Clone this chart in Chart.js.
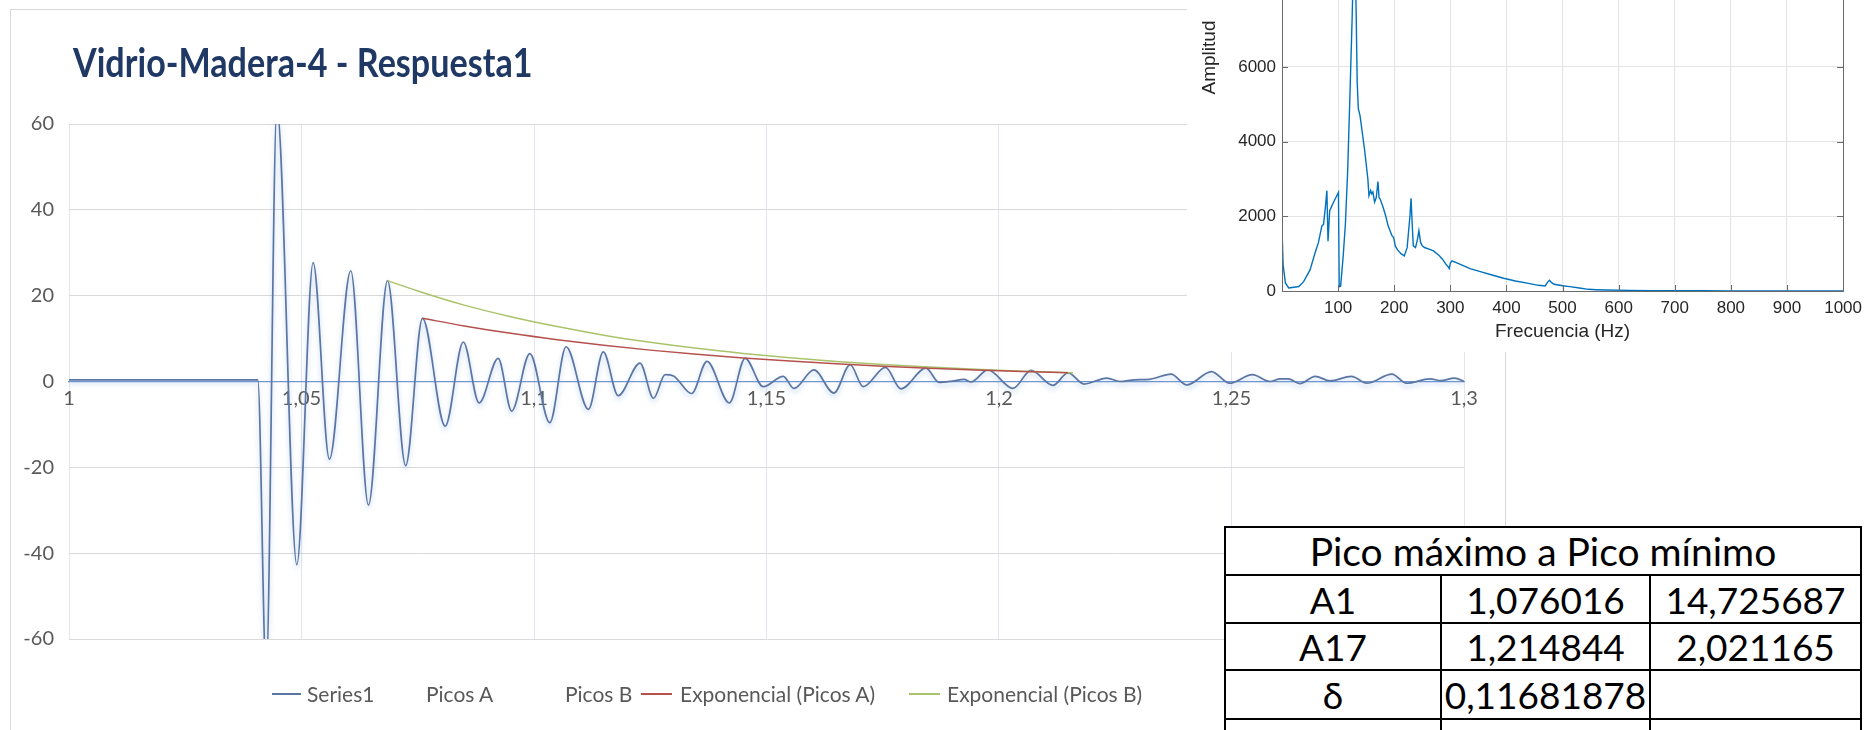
<!DOCTYPE html>
<html lang="es">
<head>
<meta charset="utf-8">
<title>Vidrio-Madera-4 - Respuesta1</title>
<script src="https://cdn.jsdelivr.net/npm/chart.js@4.4.1/dist/chart.umd.min.js"></script>
<style>
  html, body { margin: 0; padding: 0; background: #fff; }
  body { width: 1869px; height: 730px; position: relative; overflow: hidden; font-family: Lato, "Open Sans", sans-serif; }
  #frame { position: absolute; left: 10px; top: 9px; width: 1496px; height: 760px; border: 1px solid #d9d9d9; box-sizing: border-box; }
  #mainWrap { position: absolute; left: 0; top: 0; width: 1510px; height: 730px; }
  #title { position: absolute; left: 73px; top: 42px; font: bold 35px/35px Lato, sans-serif; color: #1f3864;
           white-space: nowrap; transform: scale(0.975, 1.12); transform-origin: left top; }
  #legend { position: absolute; left: 0; top: 682px; width: 1200px; height: 24px; font: 21px/24px Lato, sans-serif; color: #595959; }
  .lg-line { position: absolute; top: 11px; height: 0; border-top: 2px solid transparent; }
  .lg-text { position: absolute; top: 0; white-space: nowrap; }
  #inset { position: absolute; left: 1187px; top: 0; width: 682px; height: 352px; background: #fff; overflow: hidden; }
  #insetWrap { position: absolute; left: 0; top: -200px; width: 682px; height: 552px; }
  #tabla { position: absolute; left: 1224px; top: 526px; border-collapse: collapse; table-layout: fixed; width: 636px;
           background: #fff; font: 37px Lato, sans-serif; color: #000; }
  #tabla td { border: 2px solid #000; text-align: center; padding: 0; line-height: 1; white-space: nowrap; }
  #tabla tr:first-child td { font-size: 39px; }
</style>
</head>
<body>
<div id="frame"></div>
<div id="mainWrap"><canvas id="mainChart" width="1510" height="730"></canvas></div>
<div id="title"></div>
<div id="legend"></div>
<div id="inset"><div id="insetWrap"><canvas id="insetChart" width="682" height="552"></canvas></div></div>
<table id="tabla"></table>

<script>
// ---- Respuesta temporal (Series1) ----
const chartTitle = 'Vidrio-Madera-4 - Respuesta1';

const series1Time = [
  1.0000, 1.0406, 1.0424, 1.0447, 1.0490, 1.0525, 1.0560, 1.0606, 1.0644, 1.0685,
  1.0724, 1.076016, 1.0809, 1.0848, 1.0882, 1.0923, 1.0952, 1.0991, 1.1034, 1.1069,
  1.1117, 1.1149, 1.1181, 1.1228, 1.1257, 1.1282, 1.1300, 1.1339, 1.1372, 1.1420,
  1.1454, 1.1493, 1.1536, 1.1559, 1.1602, 1.1645, 1.1680, 1.1708, 1.1756, 1.1789,
  1.1843, 1.1871, 1.1900, 1.1925, 1.1940, 1.1976, 1.2030, 1.2069, 1.2116, 1.214844,
  1.2183, 1.2232, 1.2260, 1.2292, 1.2323, 1.2370, 1.2404, 1.2457, 1.2496, 1.2545,
  1.2582, 1.2605, 1.2622, 1.2647, 1.2680, 1.2712, 1.2758, 1.2791, 1.2845, 1.2876,
  1.2927, 1.2950, 1.2980, 1.3000
];
const series1Value = [
  0.4, 0.4, -68, 64, -42.7, 27.7, -18.1, 25.8, -28.8, 23.5,
  -19.6, 14.725687, -10.4, 9.2, -5.0, 5.4, -6.9, 6.5, -9.6, 8.1,
  -6.5, 6.9, -3.3, 4.3, -3.9, 1.6, 1.3, -2.8, 4.7, -5.0,
  5.4, -1.2, 1.2, -1.6, 2.7, -2.7, 3.9, -1.2, 3.3, -1.7,
  3.1, -0.2, 0.1, 0.5, -0.1, 2.7, -1.6, 2.6, -0.9, 2.021165,
  -0.6, 0.8, 0.0, 0.4, 0.5, 1.7, -0.8, 2.3, -0.4, 1.6,
  0.0, 0.6, 0.6, -0.5, 1.2, 0.15, 1.2, -0.4, 1.7, -0.4,
  0.6, 0.2, 0.8, 0.0
];

// Picos usados para los ajustes exponenciales
const picosATime  = [1.076016, 1.214844];
const picosAValue = [14.725687, 2.021165];
const picosBTime  = [1.0685, 1.2159];
const picosBValue = [23.5, 2.02];

// Líneas de tendencia exponencial
const trendATime  = [1.076016, 1.085, 1.095, 1.105, 1.115, 1.125, 1.135, 1.145, 1.155, 1.165, 1.175, 1.185, 1.195, 1.205, 1.214844];
const trendAValue = [14.73, 12.95, 11.22, 9.73, 8.43, 7.31, 6.33, 5.49, 4.76, 4.12, 3.57, 3.10, 2.68, 2.33, 2.02];
const trendBTime  = [1.0685, 1.075, 1.085, 1.095, 1.105, 1.115, 1.125, 1.135, 1.145, 1.155, 1.165, 1.175, 1.185, 1.195, 1.205, 1.2159];
const trendBValue = [23.5, 21.1, 17.8, 15.1, 12.8, 10.8, 9.14, 7.73, 6.54, 5.53, 4.68, 3.96, 3.35, 2.83, 2.40, 2.02];

// Ejes del gráfico principal
const xTickValues = [1, 1.05, 1.1, 1.15, 1.2, 1.25, 1.3];
const xTickLabels = ['1', '1,05', '1,1', '1,15', '1,2', '1,25', '1,3'];
const yTickValues = [-60, -40, -20, 0, 20, 40, 60];
const yTickLabels = ['-60', '-40', '-20', '0', '20', '40', '60'];

// ---- Espectro (FFT) ----
const freqHz = [
  0, 2, 6, 12, 21, 30, 38.5, 50, 59, 65, 71, 74, 77, 80, 82, 85, 91.6, 97.6, 100.6, 102,
  104.5, 109, 113, 117, 121, 125, 128, 130, 132, 134, 136, 139, 143, 147, 149, 153, 155, 158, 160, 162,
  165, 168, 171, 173, 175, 180, 185, 189, 196, 199, 202, 206, 212, 218, 223, 228, 230, 232, 234, 238,
  241, 244, 247, 250, 254, 262, 270, 280, 286, 292, 296, 298, 300, 303, 320, 335, 355, 376, 395, 416,
  437, 457, 469, 474, 477, 480, 485, 500, 513, 530, 546, 560, 578, 620, 659, 700, 750, 800, 850, 900,
  950, 1000
];
const amplitud = [
  1650, 700, 216, 80, 100, 120, 250, 565, 1025, 1300, 1740, 1785, 2190, 2685, 1335, 2150, 2370, 2550, 2640, 115,
  130, 925, 1800, 3200, 5200, 7300, 9200, 8900, 7600, 5600, 4880, 4700, 4250, 3800, 3540, 3000, 2550, 2690, 2600, 2650,
  2380, 2500, 2930, 2500, 2460, 2250, 2000, 1750, 1480, 1430, 1200, 1100, 1000, 940, 1160, 2000, 2480, 1800, 1210, 1164,
  1350, 1612, 1300, 1209, 1164, 1120, 1075, 950, 851, 720, 650, 600, 750, 806, 700, 600, 510, 421, 340, 269,
  210, 152, 134, 250, 287, 230, 179, 140, 116, 80, 45, 35, 27, 18, 10, 8, 5, 3, 2, 2,
  1, 1
];
const insetXTicks  = [0, 100, 200, 300, 400, 500, 600, 700, 800, 900, 1000];
const insetXLabels = ['', '100', '200', '300', '400', '500', '600', '700', '800', '900', '1000'];
const insetYTicks  = [0, 2000, 4000, 6000, 8000, 10000, 12000];
const insetYLabels = ['0', '2000', '4000', '6000', '8000', '10000', '12000'];

// ---- Tabla de picos ----
const tablaTitulo = 'Pico máximo a Pico mínimo';
const tablaFilas = [
  ['A1', '1,076016', '14,725687'],
  ['A17', '1,214844', '2,021165'],
  ['δ', '0,11681878', ''],
  ['', '', '']
];

// ---------------------------------------------------------------
const pts = (xs, ys) => xs.map((x, i) => ({ x: x, y: ys[i] }));
const fixedTicks = (values) => function (scale) { scale.ticks = values.map(v => ({ value: v })); };
const labelFor = (values, labels) => function (value) {
  const i = values.findIndex(v => Math.abs(v - value) < 1e-9);
  return i < 0 ? '' : labels[i];
};

document.getElementById('title').textContent = chartTitle;

// Soft shadow under the signal line
const lineShadow = {
  id: 'lineShadow',
  beforeDatasetDraw(chart, args) {
    if (args.index !== 0) return;
    const c = chart.ctx;
    c.save();
    c.shadowColor = 'rgba(100,150,215,0.45)';
    c.shadowBlur = 5;
    c.shadowOffsetY = 3;
  },
  afterDatasetDraw(chart, args) {
    if (args.index !== 0) return;
    chart.ctx.restore();
  }
};

const mainDatasets = [
  { label: 'Series1', data: pts(series1Time, series1Value), borderColor: '#5b76a4', borderWidth: 1.7,
    pointRadius: 0, cubicInterpolationMode: 'monotone', fill: false, order: 1 },
  { label: 'Picos A', data: pts(picosATime, picosAValue), showLine: false, pointRadius: 0,
    borderColor: 'transparent', backgroundColor: 'transparent', order: 0 },
  { label: 'Picos B', data: pts(picosBTime, picosBValue), showLine: false, pointRadius: 0,
    borderColor: 'transparent', backgroundColor: 'transparent', order: 0 },
  { label: 'Exponencial (Picos A)', data: pts(trendATime, trendAValue), borderColor: '#b5504c', borderWidth: 1.5,
    pointRadius: 0, cubicInterpolationMode: 'monotone', fill: false, order: 0 },
  { label: 'Exponencial (Picos B)', data: pts(trendBTime, trendBValue), borderColor: '#a9c36a', borderWidth: 1.5,
    pointRadius: 0, cubicInterpolationMode: 'monotone', fill: false, order: 0 }
];

const mainChart = new Chart(document.getElementById('mainChart'), {
  type: 'line',
  data: { datasets: mainDatasets },
  options: {
    responsive: false,
    animation: false,
    events: [],
    layout: { padding: { left: 0, top: 124, right: 46, bottom: 91 } },
    plugins: { legend: { display: false }, tooltip: { enabled: false }, title: { display: false } },
    scales: {
      x: {
        type: 'linear', min: 1, max: 1.3,
        position: { y: 0 },
        afterBuildTicks: fixedTicks(xTickValues),
        afterFit(scale) { scale.height = 0; },
        ticks: { autoSkip: false, maxRotation: 0, padding: 5, color: '#595959',
                 font: { family: 'Lato', size: 20 }, callback: labelFor(xTickValues, xTickLabels) },
        grid: { color: '#e1e6ee', lineWidth: 1, drawTicks: false },
        border: { display: true, color: '#7396d0', width: 1.2 }
      },
      y: {
        min: -60, max: 60,
        afterBuildTicks: fixedTicks(yTickValues),
        afterFit(scale) { scale.width = 69; },
        ticks: { padding: 15, color: '#595959', font: { family: 'Lato', size: 20 },
                 callback: labelFor(yTickValues, yTickLabels) },
        grid: { color: '#d9d9d9', lineWidth: 1, drawTicks: false },
        border: { display: false }
      }
    }
  },
  plugins: [lineShadow]
});

// Legend built from the chart datasets (line sample + label)
const legendSlots = [
  { line: [272, 301], text: 307 },
  { line: null, text: 426 },
  { line: null, text: 565 },
  { line: [641, 672], text: 680 },
  { line: [909, 940], text: 947 }
];
const legendEl = document.getElementById('legend');
mainChart.data.datasets.forEach((ds, i) => {
  const slot = legendSlots[i];
  if (slot.line && ds.showLine !== false) {
    const line = document.createElement('span');
    line.className = 'lg-line';
    line.style.left = slot.line[0] + 'px';
    line.style.width = (slot.line[1] - slot.line[0]) + 'px';
    line.style.borderTopColor = ds.borderColor;
    legendEl.appendChild(line);
  }
  const txt = document.createElement('span');
  txt.className = 'lg-text';
  txt.style.left = slot.text + 'px';
  txt.textContent = ds.label;
  legendEl.appendChild(txt);
});

// Axes box with inward tick marks for the spectrum plot
const axesBox = {
  id: 'axesBox',
  afterDatasetsDraw(chart) {
    const { ctx, chartArea: a, scales } = chart;
    ctx.save();
    ctx.strokeStyle = '#6a6a6a';
    ctx.lineWidth = 1;
    ctx.strokeRect(Math.round(a.left) + 0.5, Math.round(a.top) + 0.5, Math.round(a.right - a.left), Math.round(a.bottom - a.top));
    ctx.beginPath();
    const tl = 6;
    insetXTicks.forEach(v => {
      const px = Math.round(scales.x.getPixelForValue(v)) + 0.5;
      ctx.moveTo(px, a.bottom); ctx.lineTo(px, a.bottom - tl);
      ctx.moveTo(px, a.top); ctx.lineTo(px, a.top + tl);
    });
    insetYTicks.forEach(v => {
      const py = Math.round(scales.y.getPixelForValue(v)) + 0.5;
      ctx.moveTo(a.left, py); ctx.lineTo(a.left + tl, py);
      ctx.moveTo(a.right, py); ctx.lineTo(a.right - tl, py);
    });
    ctx.stroke();
    ctx.restore();
  }
};

const insetFont = '"Liberation Sans", Arial, Helvetica, sans-serif';
new Chart(document.getElementById('insetChart'), {
  type: 'line',
  data: { datasets: [{ label: 'Amplitud', data: pts(freqHz, amplitud), borderColor: '#0072bd', borderWidth: 1.4,
                       pointRadius: 0, tension: 0, fill: false }] },
  options: {
    responsive: false,
    animation: false,
    events: [],
    layout: { padding: { left: 0, top: 24, right: 22, bottom: 0 } },
    plugins: { legend: { display: false }, tooltip: { enabled: false } },
    scales: {
      x: {
        type: 'linear', min: 0, max: 1000,
        afterBuildTicks: fixedTicks(insetXTicks),
        afterFit(scale) { scale.height = 61; },
        ticks: { autoSkip: false, maxRotation: 0, padding: 7, color: '#262626',
                 font: { family: insetFont, size: 17 }, callback: labelFor(insetXTicks, insetXLabels) },
        grid: { color: '#e4e4e4', drawTicks: false },
        border: { display: false },
        title: { display: true, text: 'Frecuencia (Hz)', color: '#262626',
                 font: { family: insetFont, size: 19 }, padding: { top: 0, bottom: 9 } }
      },
      y: {
        min: 0, max: 12500,
        afterBuildTicks: fixedTicks(insetYTicks),
        afterFit(scale) { scale.width = 95; },
        ticks: { padding: 6, color: '#262626', font: { family: insetFont, size: 17 },
                 callback: labelFor(insetYTicks, insetYLabels) },
        grid: { color: '#e4e4e4', drawTicks: false },
        border: { display: false },
        title: { display: true, text: 'Amplitud', color: '#262626',
                 font: { family: insetFont, size: 19 }, padding: { top: 11, bottom: 0 } }
      }
    }
  },
  plugins: [axesBox]
});

// Table of peaks
const tabla = document.getElementById('tabla');
const colWidths = [216, 209, 211];
const rowHeights = [48, 48, 47, 49, 44];
const cg = document.createElement('colgroup');
colWidths.forEach(w => { const c = document.createElement('col'); c.style.width = w + 'px'; cg.appendChild(c); });
tabla.appendChild(cg);
const head = tabla.insertRow();
head.style.height = rowHeights[0] + 'px';
const hc = head.insertCell();
hc.colSpan = 3;
hc.textContent = tablaTitulo;
tablaFilas.forEach((fila, r) => {
  const tr = tabla.insertRow();
  tr.style.height = rowHeights[r + 1] + 'px';
  fila.forEach(v => { const td = tr.insertCell(); td.textContent = v; });
});
</script>
</body>
</html>
